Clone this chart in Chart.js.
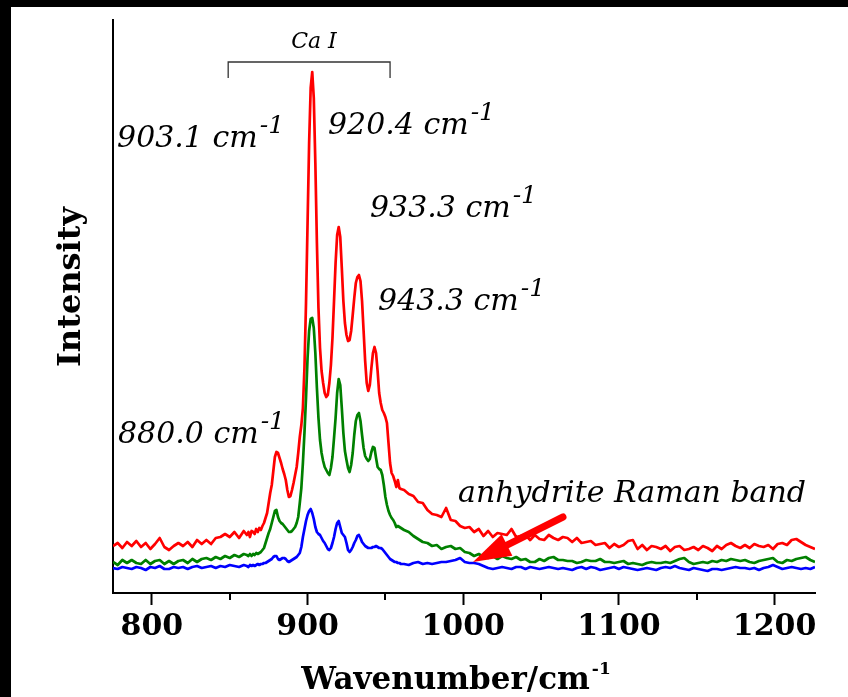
<!DOCTYPE html>
<html><head><meta charset="utf-8">
<script src="https://cdn.jsdelivr.net/npm/chart.js@4.4.1/dist/chart.umd.min.js"></script>
<style>
html,body{margin:0;padding:0;background:#000;width:848px;height:697px;overflow:hidden}
#wrap{position:absolute;left:11px;top:7px;width:837px;height:690px;background:#fff}
canvas{display:block}
</style></head><body>
<div id="wrap"><canvas id="c" width="837" height="690"></canvas></div>
<script>
// ---------- data (wavenumber / cm-1 and relative intensity) ----------
const wavenumbers = [
775,778,781,784,787,790,793,796,799,802,805,808,811,814,817,820,823,826,829,832,835,838,841,844,847,850,853,856,859,
861,862,863,864,865,866,867,868,869,870,871,872,873,874,875,876,877,878,879,880,
881,882,883,884,885,886,887,888,889,890,891,892,893,894,895,896,897,898,899,900,
901,902,903,904,905,906,907,908,909,910,911,912,913,914,915,916,917,918,919,920,
921,922,923,924,925,926,927,928,929,930,931,932,933,934,935,936,937,938,939,940,
941,942,943,944,945,946,947,948,949,950,951,952,953,954,955,956,957,958,959,960,
962,965,968,971,974,977,980,983,986,989,992,995,998,1001,1004,1007,1010,1013,1016,1019,
1022,1025,1028,1031,1034,1037,1040,1043,1046,1049,1052,1055,1058,1061,1064,1067,1070,1073,1076,1079,
1082,1085,1088,1091,1094,1097,1100,1103,1106,1109,1112,1115,1118,1121,1124,1127,1130,1133,1136,1139,
1142,1145,1148,1151,1154,1157,1160,1163,1166,1169,1172,1175,1178,1181,1184,1187,1190,1193,1196,1199,
1202,1205,1208,1211,1214,1217,1220,1223,1226
];
const redSeries = [
47,50,45,51,47,52,46,50,44,49,55,46,43,47,50,47,51,46,53,49,53,49,55,56,59,56,61,55,62,
58,61,56,62,61,59,64,61,65,63,67,70,75,80,90,100,108,122,136,141,
140,135,130,124,119,113,103,96,97,103,110,118,126,140,156,168,185,225,290,370,
450,505,521,495,430,350,285,245,222,210,200,196,198,210,228,255,292,330,358,366,
356,325,292,270,258,252,253,262,278,295,310,316,318,312,292,262,232,210,202,208,
225,240,246,240,222,200,190,183,180,176,170,150,130,120,117,112,106,113,105,104,
103,99,97,91,90,83,79,78,76,85,73,72,67,65,66,61,64,57,62,56,
60,59,58,64,56,57,58,53,58,54,53,58,55,53,56,55,51,55,50,51,
52,48,49,50,45,49,46,48,52,53,44,48,43,47,46,44,47,42,46,47,
43,44,46,43,47,45,42,47,44,48,50,47,45,48,45,49,47,46,48,44,
49,50,48,53,54,51,48,46,44
];
const greenSeries = [
31,28,33,30,33,30,29,33,29,32,33,29,32,29,32,33,30,34,31,34,35,33,36,34,37,35,38,36,39,
38,37,39,37,39,38,40,39,40,41,43,45,50,55,60,64,70,76,82,83,
76,72,70,69,67,65,63,61,61,62,64,66,70,76,90,105,130,160,195,235,
262,274,275,265,240,205,175,153,140,132,126,123,120,118,125,136,155,175,200,214,
208,185,160,142,133,125,121,128,140,158,172,178,180,172,158,145,137,134,132,134,
141,146,145,135,126,124,123,118,108,96,88,82,78,75,73,70,66,67,66,65,
63,61,57,54,51,50,47,48,44,46,47,44,45,41,40,37,39,36,35,37,
34,37,35,34,36,33,34,31,31,34,32,35,36,33,33,32,32,30,31,33,
32,32,34,31,31,30,31,32,29,30,29,28,30,31,30,30,31,30,32,34,
35,31,29,30,31,30,32,31,33,32,34,33,32,33,31,30,32,33,34,35,
31,30,33,32,34,35,36,33,31
];
const blueSeries = [
25,24,26,25,24,26,25,23,26,25,27,24,24,26,25,26,24,26,27,25,26,27,25,27,26,28,27,26,28,
27,26,28,27,28,27,28,29,28,29,29,30,30,31,32,33,34,36,37,37,
34,33,34,35,35,34,32,31,32,33,34,35,36,38,40,46,56,64,72,78,
82,84,80,74,66,61,59,58,55,52,50,47,44,43,45,50,56,64,70,72,
66,60,58,56,50,43,41,43,46,50,53,57,58,55,51,49,47,46,45,45,
45,46,46,47,46,45,45,44,42,40,38,36,34,33,32,31,31,30,30,29,
29,28,30,31,29,30,29,30,31,31,32,33,35,31,30,30,29,27,25,24,
25,26,25,24,26,26,24,26,25,24,25,26,25,24,25,24,23,25,26,24,
26,25,23,24,25,26,24,26,25,24,23,24,25,24,23,25,26,25,27,25,
24,23,25,24,23,22,24,24,23,24,25,26,25,25,24,25,23,25,26,28,
26,24,25,26,25,24,25,24,26
];
const xTickValues = [800, 900, 1000, 1100, 1200];
const xMinorTickValues = [850, 950, 1050, 1150];
const peakLabels = ['903.1', '920.4', '933.3', '943.3', '880.0'];
const bandGroupLabel = 'Ca I';
const arrowLabel = 'anhydrite Raman band';
const xAxisTitle = 'Wavenumber/cm';
const yAxisTitle = 'Intensity';

// ---------- layout (placement of annotations, in axis units) ----------
const peakLabelAnchors = [[777.6, 446], [913.1, 459], [940.1, 376], [945.3, 283], [778.2, 150]];
const bracketSpan = {from: 849, to: 953, top: 531, bottom: 515};
const groupLabelAnchor = [904.1, 545];
const arrowFrom = [1064.1, 76];
const arrowTo = [1006.3, 31];
const arrowLabelAnchor = [996.7, 91];

const AREA = {left: 102, top: 13, right: 804, bottom: 586};
const W = 837, H = 690;
const SERIF = "'DejaVu Serif',serif";
const ISERIF = "'DejaVu Serif',serif";

function drawSup(ctx, main, sup, x, y, mainFont, supFont, rise) {
  ctx.font = mainFont;
  ctx.textAlign = 'left';
  ctx.textBaseline = 'alphabetic';
  ctx.fillText(main, x, y);
  const w = ctx.measureText(main).width;
  ctx.font = supFont;
  ctx.fillText(sup, x + w + 2, y - rise);
}

const annotPlugin = {
  id: 'annot',
  afterDraw(chart) {
    const {ctx} = chart;
    const xs = chart.scales.x, ys = chart.scales.y;
    const px = v => xs.getPixelForValue(v);
    const py = v => ys.getPixelForValue(v);
    ctx.save();
    // minor ticks
    ctx.strokeStyle = '#000';
    ctx.lineWidth = 2;
    const yb = chart.chartArea.bottom;
    xMinorTickValues.forEach(v => {
      const p = Math.round(px(v));
      ctx.beginPath(); ctx.moveTo(p, yb); ctx.lineTo(p, yb + 7); ctx.stroke();
    });
    // bracket
    ctx.strokeStyle = '#333';
    ctx.lineWidth = 1.3;
    ctx.beginPath();
    ctx.moveTo(px(bracketSpan.from), py(bracketSpan.bottom));
    ctx.lineTo(px(bracketSpan.from), py(bracketSpan.top));
    ctx.lineTo(px(bracketSpan.to), py(bracketSpan.top));
    ctx.lineTo(px(bracketSpan.to), py(bracketSpan.bottom));
    ctx.stroke();
    // arrow
    const x1 = px(arrowFrom[0]), y1 = py(arrowFrom[1]);
    const x2 = px(arrowTo[0]), y2 = py(arrowTo[1]);
    const ang = Math.atan2(y2 - y1, x2 - x1);
    const headLen = 38, headHalf = 12;
    const bx = x2 - headLen * Math.cos(ang), by = y2 - headLen * Math.sin(ang);
    ctx.strokeStyle = '#ff0000';
    ctx.fillStyle = '#ff0000';
    ctx.lineWidth = 7;
    ctx.lineCap = 'round';
    ctx.beginPath(); ctx.moveTo(x1, y1); ctx.lineTo(bx + 4 * Math.cos(ang), by + 4 * Math.sin(ang)); ctx.stroke();
    ctx.beginPath();
    ctx.moveTo(x2, y2);
    ctx.lineTo(bx + headHalf * Math.sin(ang), by - headHalf * Math.cos(ang));
    ctx.lineTo(bx - headHalf * Math.sin(ang), by + headHalf * Math.cos(ang));
    ctx.closePath(); ctx.fill();
    // texts
    ctx.fillStyle = '#000';
    peakLabels.forEach((t, i) => {
      const a = peakLabelAnchors[i];
      drawSup(ctx, t + ' cm', '-1', px(a[0]), py(a[1]), 'italic 30px ' + ISERIF, 'italic 25px ' + ISERIF, 14);
    });
    ctx.font = 'italic 30px ' + ISERIF;
    ctx.textAlign = 'left'; ctx.textBaseline = 'alphabetic';
    ctx.fillText(arrowLabel, px(arrowLabelAnchor[0]), py(arrowLabelAnchor[1]));
    ctx.font = 'italic 22px ' + ISERIF;
    ctx.textAlign = 'center';
    ctx.fillText(bandGroupLabel, px(groupLabelAnchor[0]), py(groupLabelAnchor[1]));
    // axis titles
    const tFont = 'bold 31px ' + SERIF, sFont = 'bold 17px ' + SERIF;
    ctx.font = tFont;
    const tw = ctx.measureText(xAxisTitle).width;
    ctx.font = sFont;
    const sw = ctx.measureText('-1').width;
    const tx = 445 - (tw + sw + 2) / 2;
    drawSup(ctx, xAxisTitle, '-1', tx, 682, tFont, sFont, 15);
    ctx.save();
    ctx.translate(61, 280);
    ctx.rotate(-Math.PI / 2);
    ctx.font = 'bold 32px ' + SERIF;
    ctx.textAlign = 'center'; ctx.textBaseline = 'middle';
    ctx.fillText(yAxisTitle, 0, 0);
    ctx.restore();
    ctx.restore();
  }
};

const mk = (arr, color) => ({
  data: wavenumbers.map((w, i) => ({x: w, y: arr[i]})),
  borderColor: color, backgroundColor: color, borderWidth: 2.7,
  pointRadius: 0, tension: 0, borderJoinStyle: 'round', fill: false
});

new Chart(document.getElementById('c'), {
  type: 'line',
  data: {datasets: [mk(blueSeries, '#0000ff'), mk(greenSeries, '#008000'), mk(redSeries, '#ff0000')]},
  options: {
    responsive: false, animation: false, devicePixelRatio: 1,
    layout: {padding: {left: 0, top: AREA.top, right: W - AREA.right, bottom: 0}},
    plugins: {legend: {display: false}, tooltip: {enabled: false}},
    scales: {
      x: {
        type: 'linear', min: 775, max: 1226,
        afterBuildTicks: s => { s.ticks = xTickValues.map(v => ({value: v})); },
        afterFit: s => { s.height = H - AREA.bottom; },
        grid: {display: true, drawOnChartArea: false, drawTicks: true, tickLength: 12, tickWidth: 2, tickColor: '#000'},
        border: {display: true, color: '#000', width: 2},
        ticks: {color: '#000', padding: 4, maxRotation: 0, autoSkip: false,
          callback: v => String(v),
          font: {family: SERIF, size: 30, weight: 'bold'}}
      },
      y: {
        min: 0, max: 573,
        afterFit: s => { s.width = AREA.left; },
        grid: {display: false},
        border: {display: true, color: '#000', width: 2},
        ticks: {display: false}
      }
    }
  },
  plugins: [annotPlugin]
});
</script>
</body></html>
